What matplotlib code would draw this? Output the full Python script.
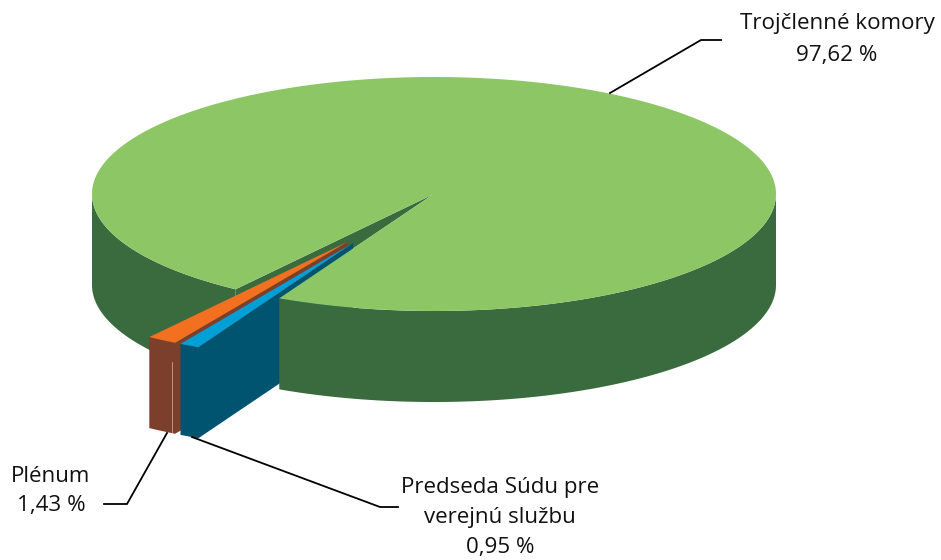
import numpy as np
import matplotlib
matplotlib.use("Agg")
import matplotlib.pyplot as plt

labels = ["Trojčlenné komory", "Plénum", "Predseda Súdu pre\nverejnú službu"]
values = [97.62, 1.43, 0.95]
value_labels = ["97,62 %", "1,43 %", "0,95 %"]
top_colors = ["#8DC765", "#F37021", "#009FD6"]
side_colors = ["#3A6B3E", "#7C3F2C", "#00546F"]
explode = [0.0, 0.48, 0.48]
explode_turn = [0.0, 1.2, -0.9]
start_angle = 243.1

CX, CY, RX, RY, DEPTH = 434, 194, 342, 117, 91

fig = plt.figure(figsize=(9.41, 5.6), dpi=100)
ax = fig.add_axes([0, 0, 1, 1])
ax.set_xlim(0, 941)
ax.set_ylim(560, 0)
ax.axis("off")
plt.rcParams["font.family"] = ["Open Sans", "DejaVu Sans"]


def pt(a, r=1.0, origin=(CX, CY)):
    a = np.radians(a)
    return origin[0] + r * RX * np.cos(a), origin[1] - r * RY * np.sin(a)


def arc(a0, a1, origin=(CX, CY)):
    t = np.linspace(a0, a1, max(int(abs(a1 - a0) * 2), 2))
    return np.array([pt(x, origin=origin) for x in t])


def side_poly(p):
    low = p[::-1] + [0, DEPTH]
    return np.vstack([p, low])


# wedge angles from the values
spans = [v / sum(values) * 360 for v in values]
a0 = start_angle
green_a0 = a0
green_a1 = a0 + spans[0]
orange_a0 = green_a1 - 360
orange_a1 = orange_a0 + spans[1]
blue_a0 = orange_a1
blue_a1 = blue_a0 + spans[2]
mid_o = (orange_a0 + orange_a1) / 2 + explode_turn[1]
mid_b = (blue_a0 + blue_a1) / 2 + explode_turn[2]
o_apex = pt(mid_o, explode[1])
b_apex = pt(mid_b, explode[2])
g_apex = (433, 194.5)

# green: rim side to the left of the cut, and the dark notch
ax.fill(*side_poly(arc(180, orange_a0)).T, color=side_colors[0], lw=0, zorder=1)
left_rim = pt(orange_a0)
notch = np.array([g_apex, left_rim, (left_rim[0], left_rim[1] + 30), pt(green_a0)])
ax.fill(*notch.T, color=side_colors[0], lw=0, zorder=1)

# plenum side faces
o_rim = arc(orange_a0, orange_a1, o_apex)
ax.fill(*side_poly(np.vstack([o_rim, [o_apex]])).T, color=side_colors[1], lw=0, zorder=2)
x_hl, y_hl = pt(orange_a1 - 0.5, origin=o_apex)
ax.plot([x_hl - 1, x_hl - 1], [y_hl + 20, y_hl + DEPTH - 1], color="#C9A293", lw=0.6, zorder=2.1)

# blue side faces
b_rim = arc(blue_a0, blue_a1, b_apex)
ax.fill(*side_poly(np.vstack([b_rim, [b_apex]])).T, color=side_colors[2], lw=0, zorder=3)

# green rim side right of the cut, over the blue face
ax.fill(*side_poly(arc(green_a0, 360)).T, color=side_colors[0], lw=0, zorder=4)

# tops
g_top = np.vstack([[g_apex], arc(green_a0, green_a1)])
ax.fill(*g_top.T, color=top_colors[0], lw=0, zorder=5)
ax.fill(*np.vstack([[o_apex], o_rim]).T, color=top_colors[1], lw=0, zorder=6)
ax.fill(*np.vstack([[b_apex], b_rim]).T, color=top_colors[2], lw=0, zorder=6)

# leader lines
leaders = [
    ([610, 701, 721], [93, 40, 40]),
    ([167, 127, 104], [433, 504, 504]),
    ([192, 380, 398], [437, 507, 507]),
]
for xs, ys in leaders:
    ax.plot(xs, ys, color="black", lw=1.3, zorder=7, solid_joinstyle="miter")

fs = 16.1
tc = "#111111"
ax.text(837, 24, labels[0], ha="center", va="center", fontsize=fs, color=tc)
ax.text(837, 55, value_labels[0], ha="center", va="center", fontsize=fs, color=tc)
ax.text(51, 476, labels[1], ha="center", va="center", fontsize=fs, color=tc)
ax.text(51, 506, value_labels[1], ha="center", va="center", fontsize=fs, color=tc)
l1, l2 = labels[2].split("\n")
ax.text(500, 487, l1, ha="center", va="center", fontsize=fs, color=tc)
ax.text(500, 518, l2, ha="center", va="center", fontsize=fs, color=tc)
ax.text(500, 548, value_labels[2], ha="center", va="center", fontsize=fs, color=tc)

fig.savefig("out.png", dpi=100, facecolor="white")
